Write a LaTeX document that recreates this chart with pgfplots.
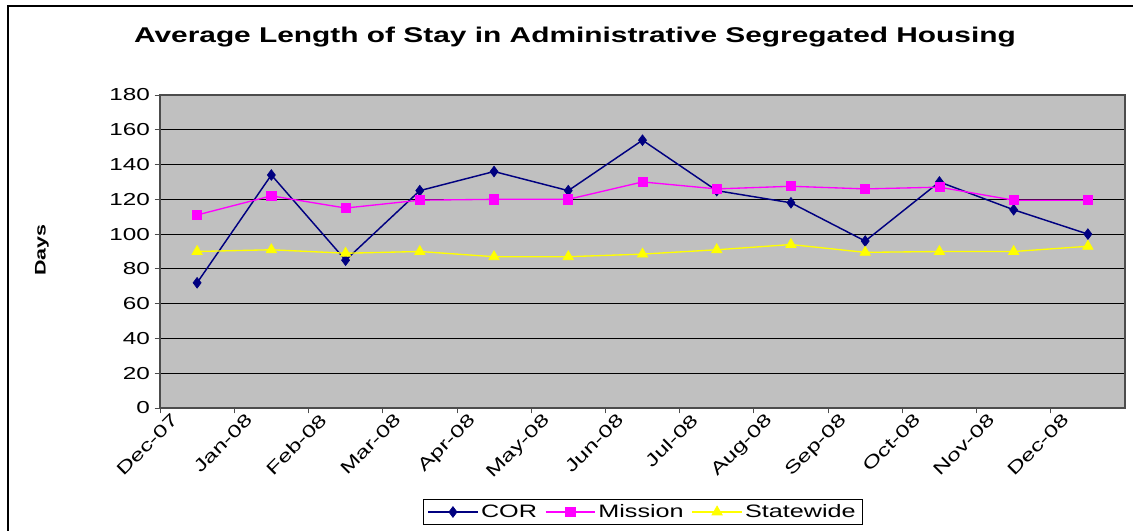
\documentclass[border=0pt]{standalone}
\usepackage{fontspec}
\setmainfont{Liberation Sans}[FakeStretch=1.4]
\usepackage{pgfplots}
\pgfplotsset{compat=1.18}
\definecolor{cor}{RGB}{0,0,128}
\definecolor{mission}{RGB}{255,0,255}
\definecolor{statew}{RGB}{255,255,0}
\definecolor{plotbg}{RGB}{192,192,192}

\begin{document}
\begin{tikzpicture}[x=1pt,y=1pt]
% page = 1133x531 px, 1px = 0.75pt, axis origin at pixel (160,408)
\useasboundingbox (-120,-92.25) rectangle (729.75,306);
\draw[black, line width=1pt] (-114,-100) -- (-114,301.5) -- (740,301.5);

\node[font=\fontsize{16}{19}\selectfont\bfseries] at (311.25,278.25)
  {Average Length of Stay in Administrative Segregated Housing};
\node[font=\fontsize{11.5}{13}\selectfont\bfseries, rotate=90] at (-88.5,118.5) {Days};

\begin{axis}[
    at={(0,0)}, anchor=south west,
    scale only axis,
    width=723.75pt, height=234.75pt,
    xmin=0, xmax=13, ymin=0, ymax=180,
    axis background/.style={fill=plotbg},
    axis line style={draw=gray!60!black, line width=0.8pt},
    xtick={0,...,12},
    xticklabels={Dec-07,Jan-08,Feb-08,Mar-08,Apr-08,May-08,Jun-08,Jul-08,Aug-08,Sep-08,Oct-08,Nov-08,Dec-08},
    ytick={0,20,...,180},
    tick align=outside,
    tick pos=left,
    major tick length=4pt,
    tick style={draw=gray!60!black, line width=0.6pt},
    ymajorgrids=true,
    grid style={black, line width=0.6pt},
    /pgf/number format/assume math mode=true,
    xticklabel style={rotate=45, anchor=north east, font=\fontsize{13}{15}\selectfont, inner sep=1pt, xshift=7pt, yshift=-4pt},
    yticklabel style={font=\fontsize{13}{15}\selectfont},
    legend style={
        at={(362.25pt,-78pt)}, anchor=center,
        draw=black, line width=0.6pt,
        font=\fontsize{13.5}{15}\selectfont,
        legend columns=3,
        /tikz/every even column/.append style={column sep=4pt},
    },
    legend image code/.code={%
        \draw[mark repeat=2, mark phase=2] plot coordinates {(0cm,0cm) (0.65cm,0cm) (1.3cm,0cm)};
    },
    clip=false,
]
\addplot[color=cor, line width=1.1pt, mark=diamond*, mark size=4pt, mark options={fill=cor, line width=0.5pt}]
coordinates {
    (0.5,72) (1.5,134) (2.5,85) (3.5,125) (4.5,136) (5.5,125) (6.5,154)
    (7.5,125) (8.5,118) (9.5,96) (10.5,130) (11.5,114) (12.5,100)
};
\addlegendentry{COR}
\addplot[color=mission, line width=1pt, mark=square*, mark size=3.4pt, mark options={fill=mission, line width=0.5pt}]
coordinates {
    (0.5,111) (1.5,122) (2.5,115) (3.5,119.5) (4.5,120) (5.5,120) (6.5,130)
    (7.5,126) (8.5,127.5) (9.5,126) (10.5,127) (11.5,119.5) (12.5,119.5)
};
\addlegendentry{Mission}
\addplot[color=statew, line width=1pt, mark=triangle*, mark size=4.5pt, mark options={fill=statew, line width=0.5pt}]
coordinates {
    (0.5,90) (1.5,91) (2.5,89) (3.5,90) (4.5,87) (5.5,87) (6.5,88.5)
    (7.5,91) (8.5,94) (9.5,89.5) (10.5,90) (11.5,90) (12.5,93)
};
\addlegendentry{Statewide}
\end{axis}
\end{tikzpicture}
\end{document}
